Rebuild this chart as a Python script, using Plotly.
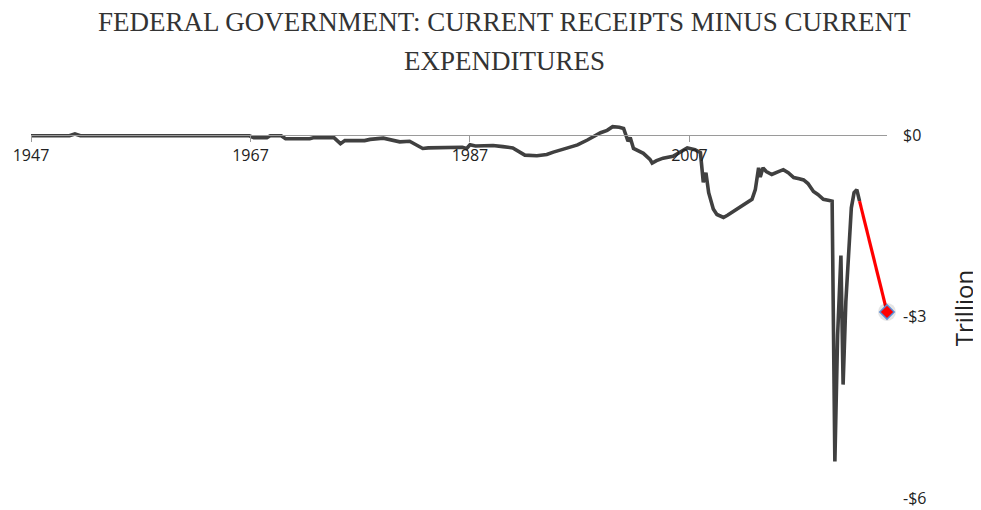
import plotly.graph_objects as go

# ---- data (trillions of dollars, annual rate) ----
years = [1947.0, 1950.5, 1951.0, 1951.5, 1955.0, 1960.0, 1965.0, 1966.9, 1967.3, 1968.5,
         1968.8, 1969.8, 1970.2, 1972.4, 1972.8, 1974.6, 1975.2, 1975.6, 1977.4, 1977.9,
         1979.1, 1980.2, 1980.6, 1981.5, 1982.7, 1983.2, 1984.5, 1985.5, 1986.3, 1986.7,
         1987.0, 1987.5, 1989.1, 1990.0, 1990.9, 1992.0, 1993.1, 1994.0, 1994.6, 1995.9,
         1996.8, 1997.7, 1998.9, 1999.5, 2000.0, 2000.6, 2001.0, 2001.4, 2001.6, 2001.9,
         2002.3, 2002.8, 2003.4, 2003.6, 2004.0, 2004.6, 2005.5, 2006.2, 2006.8, 2007.5,
         2008.0, 2008.26, 2008.5, 2008.75, 2009.17, 2009.5, 2010.1, 2010.5, 2011.0, 2011.6,
         2012.3, 2012.7, 2013.0, 2013.3, 2013.45, 2013.7, 2014.0, 2014.5, 2015.0, 2015.55,
         2016.0, 2016.5, 2017.0, 2017.4, 2017.8, 2018.3, 2018.7, 2019.2, 2019.75, 2020.0,
         2020.25, 2020.5, 2020.8, 2021.0, 2021.25, 2021.5, 2021.75, 2022.0, 2022.25, 2022.5]
deficit = [-0.01, -0.01, 0.02, -0.01, -0.01, -0.01, -0.01, -0.01, -0.04, -0.04,
           -0.01, -0.01, -0.06, -0.06, -0.04, -0.04, -0.14, -0.09, -0.09, -0.07,
           -0.05, -0.09, -0.11, -0.10, -0.22, -0.21, -0.21, -0.20, -0.20, -0.22,
           -0.16, -0.18, -0.17, -0.19, -0.21, -0.33, -0.34, -0.32, -0.28, -0.21,
           -0.16, -0.08, 0.04, 0.08, 0.14, 0.13, 0.11, -0.10, -0.04, -0.22,
           -0.25, -0.30, -0.40, -0.46, -0.42, -0.38, -0.35, -0.27, -0.21, -0.24,
           -0.29, -0.78, -0.62, -0.95, -1.22, -1.31, -1.36, -1.32, -1.26, -1.20,
           -1.11, -1.06, -0.90, -0.54, -0.69, -0.54, -0.60, -0.65, -0.61, -0.57,
           -0.62, -0.70, -0.72, -0.74, -0.80, -0.93, -0.98, -1.06, -1.08, -1.09,
           -5.39, -3.30, -1.99, -4.12, -2.75, -1.85, -1.20, -0.95, -0.90, -1.09]

proj_years = [2022.5, 2025.0]
proj_values = [-1.09, -2.92]

x_tick_vals = [1947, 1967, 1987, 2007]
x_tick_text = ["1947", "1967", "1987", "2007"]
y_tick_vals = [0, -3, -6]
y_tick_text = ["$0", "-$3", "-$6"]

title_line1 = "FEDERAL GOVERNMENT: CURRENT RECEIPTS MINUS CURRENT"
title_line2 = "EXPENDITURES"

y_min, y_max = -6.01, 0.3
SANS = "Open Sans, sans-serif"

# plot area in window pixels (page body adds an 8px offset)
top_px, bottom_px = 117, 499
plot_h = bottom_px - top_px

fig = go.Figure()
fig.add_trace(go.Scatter(x=years, y=deficit, mode="lines",
                         line=dict(color="#404040", width=3.6),
                         hoverinfo="skip", showlegend=False))
fig.add_trace(go.Scatter(x=proj_years, y=proj_values, mode="lines",
                         line=dict(color="#ff0000", width=3.2),
                         hoverinfo="skip", showlegend=False))
# soft shadow under end marker
fig.add_trace(go.Scatter(x=proj_years[-1:], y=proj_values[-1:], mode="markers",
                         marker=dict(symbol="circle", size=18, color="rgba(0,0,0,0.10)", line=dict(width=0)),
                         hoverinfo="skip", showlegend=False, cliponaxis=False))
fig.add_trace(go.Scatter(x=proj_years[-1:], y=proj_values[-1:], mode="markers",
                         marker=dict(symbol="diamond", size=11, color="#ff0000",
                                     line=dict(color="#5b8bd6", width=1.5)),
                         hoverinfo="skip", showlegend=False, cliponaxis=False))

fig.update_layout(
    width=973, height=510,
    margin=dict(l=23, r=94, t=top_px - 8, b=510 - (bottom_px - 8)),
    plot_bgcolor="white", paper_bgcolor="white",
    font=dict(family=SANS, color="#222222", size=16),
    xaxis=dict(range=[1947, 2025], anchor="free", automargin=False,
               position=(0 - y_min) / (y_max - y_min),
               showline=True, linecolor="#9a9a9a", linewidth=1,
               showgrid=False, zeroline=False,
               tickmode="array", tickvals=x_tick_vals, ticktext=x_tick_text,
               ticks="outside", ticklen=6, tickcolor="#9a9a9a", tickwidth=1,
               tickfont=dict(family=SANS, size=16, color="#222222")),
    yaxis=dict(range=[y_min, y_max], side="right", automargin=False,
               showline=False, showgrid=False, zeroline=False,
               tickmode="array", tickvals=y_tick_vals, ticktext=y_tick_text,
               ticks="", ticklabelstandoff=15, ticklabeloverflow="allow",
               tickfont=dict(family=SANS, size=16, color="#222222"),
               title=dict(text="Trillion", standoff=30,
                          font=dict(family=SANS, size=24, color="#222222"))),
    annotations=[
        dict(text=title_line1, xref="paper", yref="paper", x=(504.5 - 31) / 856,
             y=(bottom_px - 22) / plot_h, xanchor="center", yanchor="middle", showarrow=False,
             font=dict(family="Liberation Serif, serif", size=27, color="#333333")),
        dict(text=title_line2, xref="paper", yref="paper", x=(504.5 - 31) / 856,
             y=(bottom_px - 61) / plot_h, xanchor="center", yanchor="middle", showarrow=False,
             font=dict(family="Liberation Serif, serif", size=27, color="#333333")),
    ],
)

fig.write_html("out.html")
